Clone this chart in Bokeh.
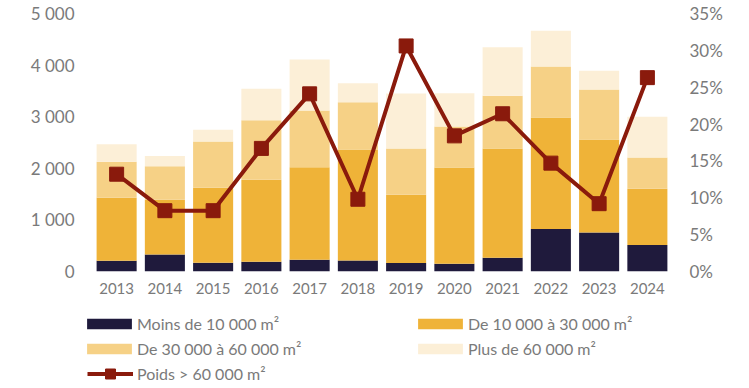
from bokeh.plotting import figure
from bokeh.layouts import column
from bokeh.models import (ColumnDataSource, Range1d, LinearAxis, FixedTicker,
                          Legend, LegendItem, FactorRange)
from bokeh.embed import file_html
from bokeh.resources import INLINE

years = ["2013", "2014", "2015", "2016", "2017", "2018",
         "2019", "2020", "2021", "2022", "2023", "2024"]
moins_10k = [208, 330, 169, 188, 227, 214, 163, 150, 266, 823, 757, 513]
de_10k_30k = [1223, 1062, 1456, 1592, 1792, 2149, 1326, 1864, 2116, 2161, 1800, 1093]
de_30k_60k = [697, 647, 893, 1152, 1101, 919, 893, 796, 1024, 991, 971, 602]
plus_60k = [338, 201, 227, 609, 990, 368, 1068, 646, 938, 693, 363, 790]
poids_60k = [13.2, 8.25, 8.25, 16.7, 24.1, 9.8, 30.6, 18.4, 21.4, 14.7, 9.2, 26.3]

left_ticks = [0, 1000, 2000, 3000, 4000, 5000]
left_tick_labels = ["0", "1 000", "2 000", "3 000", "4 000", "5 000"]
right_ticks = [0, 5, 10, 15, 20, 25, 30, 35]
right_tick_labels = ["0%", "5%", "10%", "15%", "20%", "25%", "30%", "35%"]

series_names = ["Moins de 10 000 m²", "De 10 000 à 30 000 m²",
                "De 30 000 à 60 000 m²", "Plus de 60 000 m²"]
line_name = "Poids > 60 000 m²"

colors = ["#1F1A3C", "#EFB338", "#F6D186", "#FCEFD7"]
red = "#8A1A0C"
text_color = "#7A7A7A"
font = "Lato"
stack_cols = ["moins", "d1030", "d3060", "plus"]

source = ColumnDataSource(dict(years=years, moins=moins_10k, d1030=de_10k_30k,
                               d3060=de_30k_60k, plus=plus_60k, poids=poids_60k))

W = 740
p = figure(x_range=FactorRange(*years), y_range=Range1d(0, 5000),
           width=W, height=306, output_backend="svg", toolbar_location=None,
           min_border_left=92, min_border_right=69, min_border_top=13,
           min_border_bottom=35, frame_align=False)
p.extra_y_ranges = {"pct": Range1d(0, 35)}

bars = p.vbar_stack(stack_cols, x="years", width=0.83,
                    fill_color=colors, line_color=None, source=source)

ln = p.line(x="years", y="poids", y_range_name="pct", line_color=red,
            line_width=4, source=source)
sc = p.scatter(x="years", y="poids", y_range_name="pct", marker="square",
               size=14, fill_color=red, line_color=red, source=source)

# axes
p.yaxis.ticker = FixedTicker(ticks=left_ticks)
p.yaxis.major_label_overrides = {t: l for t, l in zip(left_ticks, left_tick_labels)}
right = LinearAxis(y_range_name="pct", ticker=FixedTicker(ticks=right_ticks),
                   major_label_overrides={t: l for t, l in zip(right_ticks, right_tick_labels)})
p.add_layout(right, "right")

for ax in p.yaxis + p.xaxis:
    ax.axis_line_color = None
    ax.major_tick_line_color = None
    ax.minor_tick_line_color = None
    ax.major_tick_out = 0
    ax.major_tick_in = 0
    ax.major_label_text_color = text_color
    ax.major_label_text_font = font

for ax in p.yaxis:
    ax.major_label_text_font_size = "17px"
    ax.major_label_standoff = 18
p.xaxis.major_label_text_font_size = "15px"
p.xaxis.major_label_standoff = 11

p.xgrid.visible = False
p.ygrid.visible = False
p.outline_line_color = None

# legend panel: a second figure; its glyphs (same data) are hidden,
# only their legend entries are shown
lf = figure(width=W, height=80, output_backend="svg", toolbar_location=None,
            x_range=FactorRange(*years), y_range=Range1d(-2, -1),
            x_axis_location=None, y_axis_location=None,
            min_border_left=0, min_border_right=0, min_border_top=0,
            min_border_bottom=0, frame_align=False)
lf.xgrid.visible = False
lf.ygrid.visible = False
lf.outline_line_color = None

lbars = lf.vbar_stack(stack_cols, x="years", width=0.83,
                      fill_color=colors, line_color=None, source=source)
lline = lf.line(x="years", y="poids", line_color=red, line_width=4, source=source)
lsq = lf.scatter(x="years", y="poids", marker="square", size=14,
                 fill_color=red, line_color=red, source=source)
for r in list(lbars) + [lline, lsq]:
    r.visible = False

common = dict(label_text_font=font, label_text_font_size="16px",
              label_text_color=text_color, padding=0, margin=0, spacing=5,
              label_height=20, border_line_alpha=0, background_fill_alpha=0,
              click_policy="none")

leg1 = Legend(items=[LegendItem(label=n, renderers=[r]) for n, r in zip(series_names, lbars)],
              orientation="horizontal", ncols=2, location=(81, 28),
              glyph_height=13, glyph_width=56, label_standoff=0, label_width=270,
              **common)
leg2 = Legend(items=[LegendItem(label=line_name, renderers=[lline, lsq])],
              orientation="horizontal", location=(87, 0),
              glyph_height=25, glyph_width=46, label_standoff=4, **common)
lf.add_layout(leg1, "center")
lf.add_layout(leg2, "center")

layout = column(p, lf, spacing=0)
open("out.html", "w").write(file_html(layout, INLINE))
